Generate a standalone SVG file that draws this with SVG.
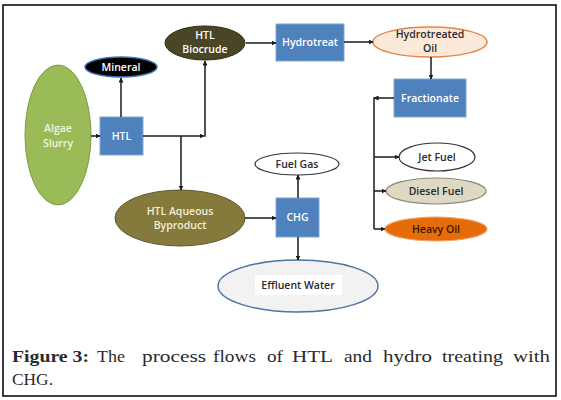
<svg xmlns="http://www.w3.org/2000/svg" width="561" height="400" viewBox="0 0 561 400">
<style>
.box{fill:#4f81bd;stroke:#7fa6d6;stroke-width:1}
.lbl{font-family:"Open Sans","Liberation Sans",sans-serif;font-size:10.5px;font-weight:600;text-anchor:middle}
.w{fill:#ffffff}
.d{fill:#2a2a2a}
.con{stroke:#1a1a1a;stroke-width:1.5;fill:none}
.cap{font-family:"Liberation Serif",serif;font-size:17px;fill:#2a2a2a}
</style>
<defs>
<marker id="ah" viewBox="0 0 10 10" refX="9" refY="5" markerWidth="5" markerHeight="5" orient="auto" markerUnits="userSpaceOnUse">
<path d="M0,0 L10,5 L0,10 Z" fill="#1a1a1a"/>
</marker>
</defs>
<rect x="3" y="5" width="553" height="391" fill="#ffffff" stroke="#000000" stroke-width="1.5"/>

<g id="algae"><ellipse cx="58" cy="135" rx="33" ry="70" fill="#9bbb59" stroke="#7d9a3f"/><text class="lbl" x="58" y="132" fill="#eef4e0">Algae</text><text class="lbl" x="58" y="147" fill="#eef4e0">Slurry</text></g>
<g id="htl"><rect class="box" x="100" y="117" width="43" height="38"/><text class="lbl w" x="121.5" y="140">HTL</text></g>
<g id="mineral"><ellipse cx="121" cy="67" rx="36" ry="10" fill="#000000" stroke="#3f6fb0" stroke-width="1.5"/><text class="lbl w" x="121" y="71">Mineral</text></g>
<g id="biocrude"><ellipse cx="205" cy="43" rx="40" ry="17" fill="#4a4526" stroke="#2f2c18"/><text class="lbl w" x="205" y="39">HTL</text><text class="lbl w" x="205" y="53">Biocrude</text></g>
<g id="aqueous"><ellipse cx="180" cy="218" rx="65" ry="28" fill="#857a3c" stroke="#5e562a"/><text class="lbl" x="180" y="215" fill="#f3eed8">HTL Aqueous</text><text class="lbl" x="180" y="229" fill="#f3eed8">Byproduct</text></g>
<g id="chg"><rect class="box" x="276" y="198" width="43" height="39"/><text class="lbl w" x="297.5" y="221">CHG</text></g>
<g id="fuelgas"><ellipse cx="297" cy="164" rx="42" ry="11" fill="#ffffff" stroke="#333333" stroke-width="1.2"/><text class="lbl d" x="297" y="168">Fuel Gas</text></g>
<g id="effluent"><ellipse cx="298" cy="286" rx="80" ry="26" fill="#f2f2f2" stroke="#4f73a3" stroke-width="1.5"/><rect x="255" y="275" width="87" height="20" fill="#ffffff"/><text class="lbl d" x="298" y="289">Effluent Water</text></g>
<g id="hydrotreat"><rect class="box" x="276" y="24" width="68" height="37"/><text class="lbl w" x="310" y="46">Hydrotreat</text></g>
<g id="hoil"><ellipse cx="430" cy="42" rx="57" ry="15" fill="#fde9d9" stroke="#e0884a" stroke-width="1.5"/><text class="lbl d" x="430" y="38">Hydrotreated</text><text class="lbl d" x="430" y="52">Oil</text></g>
<g id="fractionate"><rect class="box" x="394" y="79" width="72" height="38"/><text class="lbl w" x="430" y="102">Fractionate</text></g>
<g id="jetfuel"><ellipse cx="437" cy="157" rx="38" ry="14" fill="#ffffff" stroke="#333333" stroke-width="1.2"/><text class="lbl d" x="437" y="161">Jet Fuel</text></g>
<g id="diesel"><ellipse cx="436" cy="191" rx="50" ry="13" fill="#ddd9c3" stroke="#8c8a78" stroke-width="1.2"/><text class="lbl d" x="436" y="195">Diesel Fuel</text></g>
<g id="heavyoil"><ellipse cx="436" cy="229" rx="51" ry="12" fill="#e46c0a" stroke="#f2a46a" stroke-width="1.2"/><text class="lbl" x="436" y="233" fill="#3a1a00">Heavy Oil</text></g>

<g id="connectors">
<line class="con" x1="91" y1="136" x2="100" y2="136" marker-end="url(#ah)"/>
<line class="con" x1="121" y1="117" x2="121" y2="78" marker-end="url(#ah)"/>
<line class="con" x1="143" y1="136" x2="204" y2="136" marker-end="url(#ah)"/>
<line class="con" x1="205" y1="136.75" x2="205" y2="61" marker-end="url(#ah)"/>
<line class="con" x1="181" y1="136" x2="181" y2="190" marker-end="url(#ah)"/>
<line class="con" x1="245" y1="218" x2="276" y2="218" marker-end="url(#ah)"/>
<line class="con" x1="298" y1="198" x2="298" y2="175" marker-end="url(#ah)"/>
<line class="con" x1="298" y1="237" x2="298" y2="260" marker-end="url(#ah)"/>
<line class="con" x1="246" y1="43" x2="276" y2="43" marker-end="url(#ah)"/>
<line class="con" x1="344" y1="42" x2="373" y2="42" marker-end="url(#ah)"/>
<line class="con" x1="431" y1="57" x2="431" y2="79" marker-end="url(#ah)"/>
<line class="con" x1="394" y1="98" x2="374" y2="98" marker-end="url(#ah)"/>
<line class="con" x1="374" y1="97.25" x2="374" y2="229"/>
<line class="con" x1="374" y1="157" x2="399" y2="157" marker-end="url(#ah)"/>
<line class="con" x1="374" y1="191" x2="386" y2="191" marker-end="url(#ah)"/>
<line class="con" x1="374" y1="229" x2="385" y2="229" marker-end="url(#ah)"/>
</g>

<g id="caption">
<text class="cap" x="12" y="362" font-weight="bold" fill="#111111" textLength="77" lengthAdjust="spacingAndGlyphs">Figure 3:</text>
<text class="cap" x="97" y="362" textLength="28" lengthAdjust="spacingAndGlyphs">The</text>
<text class="cap" x="142" y="362" textLength="64" lengthAdjust="spacingAndGlyphs">process</text>
<text class="cap" x="213" y="362" textLength="43" lengthAdjust="spacingAndGlyphs">flows</text>
<text class="cap" x="267" y="362" textLength="16" lengthAdjust="spacingAndGlyphs">of</text>
<text class="cap" x="292" y="362" textLength="41" lengthAdjust="spacingAndGlyphs">HTL</text>
<text class="cap" x="344" y="362" textLength="28" lengthAdjust="spacingAndGlyphs">and</text>
<text class="cap" x="383" y="362" textLength="49" lengthAdjust="spacingAndGlyphs">hydro</text>
<text class="cap" x="442" y="362" textLength="61" lengthAdjust="spacingAndGlyphs">treating</text>
<text class="cap" x="513" y="362" textLength="37" lengthAdjust="spacingAndGlyphs">with</text>
<text class="cap" x="12" y="385" textLength="41" lengthAdjust="spacingAndGlyphs">CHG.</text>
</g>
</svg>
